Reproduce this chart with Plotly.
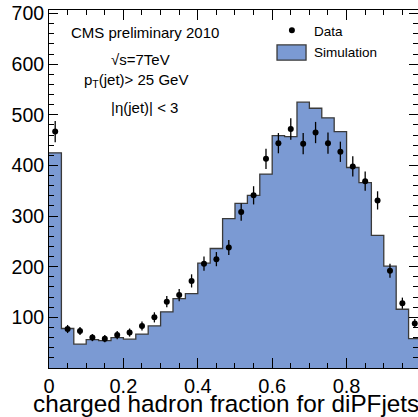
import numpy as np
import plotly.graph_objects as go

# 30 equal bins of the charged hadron energy fraction
n_bins = 30
bin_edges = np.linspace(0.0, 1.0, n_bins + 1)
bin_centers = 0.5 * (bin_edges[:-1] + bin_edges[1:])

# Simulation (histogram, normalised to data)
simulation = [425, 78, 47, 56, 54, 60, 57, 67, 83, 111,
              137, 147, 207, 236, 295, 325, 341, 383, 459, 457,
              525, 513, 494, 467, 396, 366, 262, 201, 116, 58]

# Data counts and their statistical uncertainties
data_counts = [467, 77, 73, 60, 58, 65, 70, 83, 100, 131,
               144, 172, 206, 215, 238, 308, 341, 413, 444, 472,
               443, 465, 444, 427, 398, 369, 331, 192, 128, 88]
data_errors = [21, 8, 8, 7, 7, 8, 8, 9, 10, 11,
               12, 13, 14, 14, 15, 17, 18, 20, 20, 21,
               21, 21, 21, 20, 20, 19, 18, 14, 11, 9]

x_ticks = [0, 0.2, 0.4, 0.6, 0.8, 1.0]
x_tick_text = ["0", "0.2", "0.4", "0.6", "0.8", "1"]
y_ticks = [100, 200, 300, 400, 500, 600, 700]

FILL = "#7b9ad3"
EDGE = "#3a3a3a"
FONT = "Liberation Sans, Arial, Helvetica, sans-serif"

fig = go.Figure()

# stepped, filled simulation histogram
fig.add_trace(go.Scatter(
    x=list(bin_edges),
    y=simulation + [simulation[-1]],
    mode="lines",
    line=dict(shape="hv", color=EDGE, width=1.3),
    fill="tozeroy",
    fillcolor=FILL,
    hoverinfo="skip",
    showlegend=False,
))

# data points with vertical error bars
fig.add_trace(go.Scatter(
    x=list(bin_centers),
    y=data_counts,
    mode="markers",
    marker=dict(color="black", size=6),
    error_y=dict(type="data", array=data_errors, color="black",
                 thickness=1.3, width=0),
    showlegend=False,
))

axis_common = dict(
    showline=True, linecolor="black", linewidth=1,
    mirror="allticks", ticks="inside", tickcolor="black",
    showgrid=False, zeroline=False,
)

fig.update_xaxes(
    range=[0, 0.992],
    tickvals=x_ticks, ticktext=x_tick_text,
    ticklen=10, tickwidth=1,
    minor=dict(dtick=0.05, tick0=0, ticks="inside", ticklen=5,
               tickcolor="black", tickwidth=1, showgrid=False),
    tickfont=dict(family=FONT, size=20, color="black"),
    **axis_common,
)
fig.update_yaxes(
    range=[0, 707],
    tickvals=y_ticks,
    ticklen=9, tickwidth=1,
    minor=dict(dtick=20, tick0=0, ticks="inside", ticklen=5,
               tickcolor="black", tickwidth=1, showgrid=False),
    tickfont=dict(family=FONT, size=19.5, color="black"),
    **axis_common,
)

text_font = dict(family=FONT, size=15, color="black")
annotations = [
    dict(x=0.259, y=663, text="CMS preliminary 2010"),
    dict(x=0.247, y=610, text="\u221As=7TeV"),
    dict(x=0.234, y=567, text="p<sub>T</sub>(jet)> 25 GeV"),
    dict(x=0.258, y=514, text="|\u03b7(jet)| < 3"),
]
for a in annotations:
    a.update(xref="x", yref="y", showarrow=False, font=text_font,
             xanchor="center", yanchor="middle")

legend_font = dict(family=FONT, size=13.5, color="black")
annotations += [
    dict(x=0.707, y=665, text="Data", xref="x", yref="y", showarrow=False,
         font=legend_font, xanchor="left", yanchor="middle"),
    dict(x=0.707, y=624, text="Simulation", xref="x", yref="y",
         showarrow=False, font=legend_font, xanchor="left", yanchor="middle"),
    # x-axis title, right-aligned at the end of the axis
    dict(x=1.008, y=-0.10, xref="paper", yref="paper", showarrow=False,
         text="charged hadron fraction for diPFjets", xanchor="right",
         yanchor="middle", font=dict(family=FONT, size=24.3, color="black")),
]

shapes = [
    # legend key: data marker
    dict(type="circle", xref="x", yref="y", xsizemode="pixel",
         ysizemode="pixel", xanchor=0.653, yanchor=667,
         x0=-3, x1=3, y0=-3, y1=3, fillcolor="black",
         line=dict(color="black", width=0)),
    # legend key: simulation box
    dict(type="rect", xref="x", yref="y", x0=0.613, x1=0.691,
         y0=608, y1=638, fillcolor=FILL, line=dict(color=EDGE, width=1.3)),
]

fig.update_layout(
    width=418, height=417,
    margin=dict(l=49, r=0, t=10, b=49),
    paper_bgcolor="white", plot_bgcolor="white",
    annotations=annotations, shapes=shapes,
    showlegend=False,
)

fig.write_html("out.html")
